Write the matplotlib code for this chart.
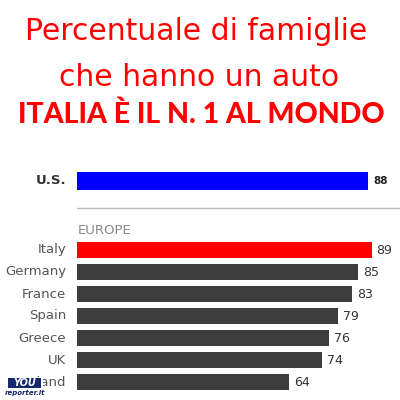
import matplotlib
matplotlib.use("Agg")
import matplotlib.pyplot as plt
from matplotlib.patches import Rectangle

us_label = "U.S."
us_value = 88
countries = ["Italy", "Germany", "France", "Spain", "Greece", "UK", "Poland"]
values = [89, 85, 83, 79, 76, 74, 64]
colors = ["#ff0000"] + ["#3d3d3d"] * 6

fig = plt.figure(figsize=(4, 4), dpi=100)
fig.patch.set_facecolor("white")

# axes: x 0..100 -> pixel 77..408
ax = fig.add_axes([77/400, 0, 331/400, 1])
ax.set_xlim(0, 100)
ax.set_ylim(400, 0)
ax.axis("off")

# US bar
ax.barh([181], [us_value], height=18, color="#0000ff", align="center")
ax.text(us_value + 1.5, 181, str(us_value), va="center", ha="left", fontsize=7.5,
        fontweight="bold", color="#222222")
ax.text(-3.3, 181, us_label, va="center", ha="right", fontsize=9.5, fontweight="bold", color="#333333")

# separator
ax.plot([0, 100], [208, 208], color="#bbbbbb", lw=1)
ax.text(0.3, 230, "EUROPE", va="center", ha="left", fontsize=9.5, color="#888888")

ys = [250 + 22 * i for i in range(len(countries))]
ax.barh(ys, values, height=16, color=colors, align="center")
for y, c, v in zip(ys, countries, values):
    ax.text(v + 1.5, y, str(v), va="center", ha="left", fontsize=9, color="#333333")
    ax.text(-3.3, y, c, va="center", ha="right", fontsize=9.5, color="#555555")

# titles
fig.text(0.49, 1 - 31/400, "Percentuale di famiglie", ha="center", va="center",
         fontsize=21.5, color="#ff0000", family="DejaVu Sans")
fig.text(0.497, 1 - 77/400, "che hanno un auto", ha="center", va="center",
         fontsize=21.5, color="#ff0000", family="DejaVu Sans")
fig.text(0.503, 1 - 115/400, "ITALIA È IL N. 1 AL MONDO", ha="center", va="center",
         fontsize=20.5, color="#ff0000", family="Lato", fontweight="black")

# watermark logo (covers start of last label as in the reference)
fig.patches.append(Rectangle((4/400, 1 - 397/400), 39/400, 20/400, transform=fig.transFigure,
                             facecolor="white", edgecolor="none", zorder=5))
fig.patches.append(Rectangle((8/400, 1 - 388/400), 33/400, 10/400, transform=fig.transFigure,
                             facecolor="#14286e", edgecolor="none", zorder=6))
fig.text(25/400, 1 - 383/400, "YOU", fontsize=7, fontweight="bold", style="italic",
         color="white", zorder=7, va="center", ha="center")
fig.text(5/400, 1 - 392.5/400, "reporter.it", fontsize=5, style="italic", fontweight="bold",
         color="#14286e", zorder=7, va="center")

fig.savefig("out.png", dpi=100, facecolor="white")
